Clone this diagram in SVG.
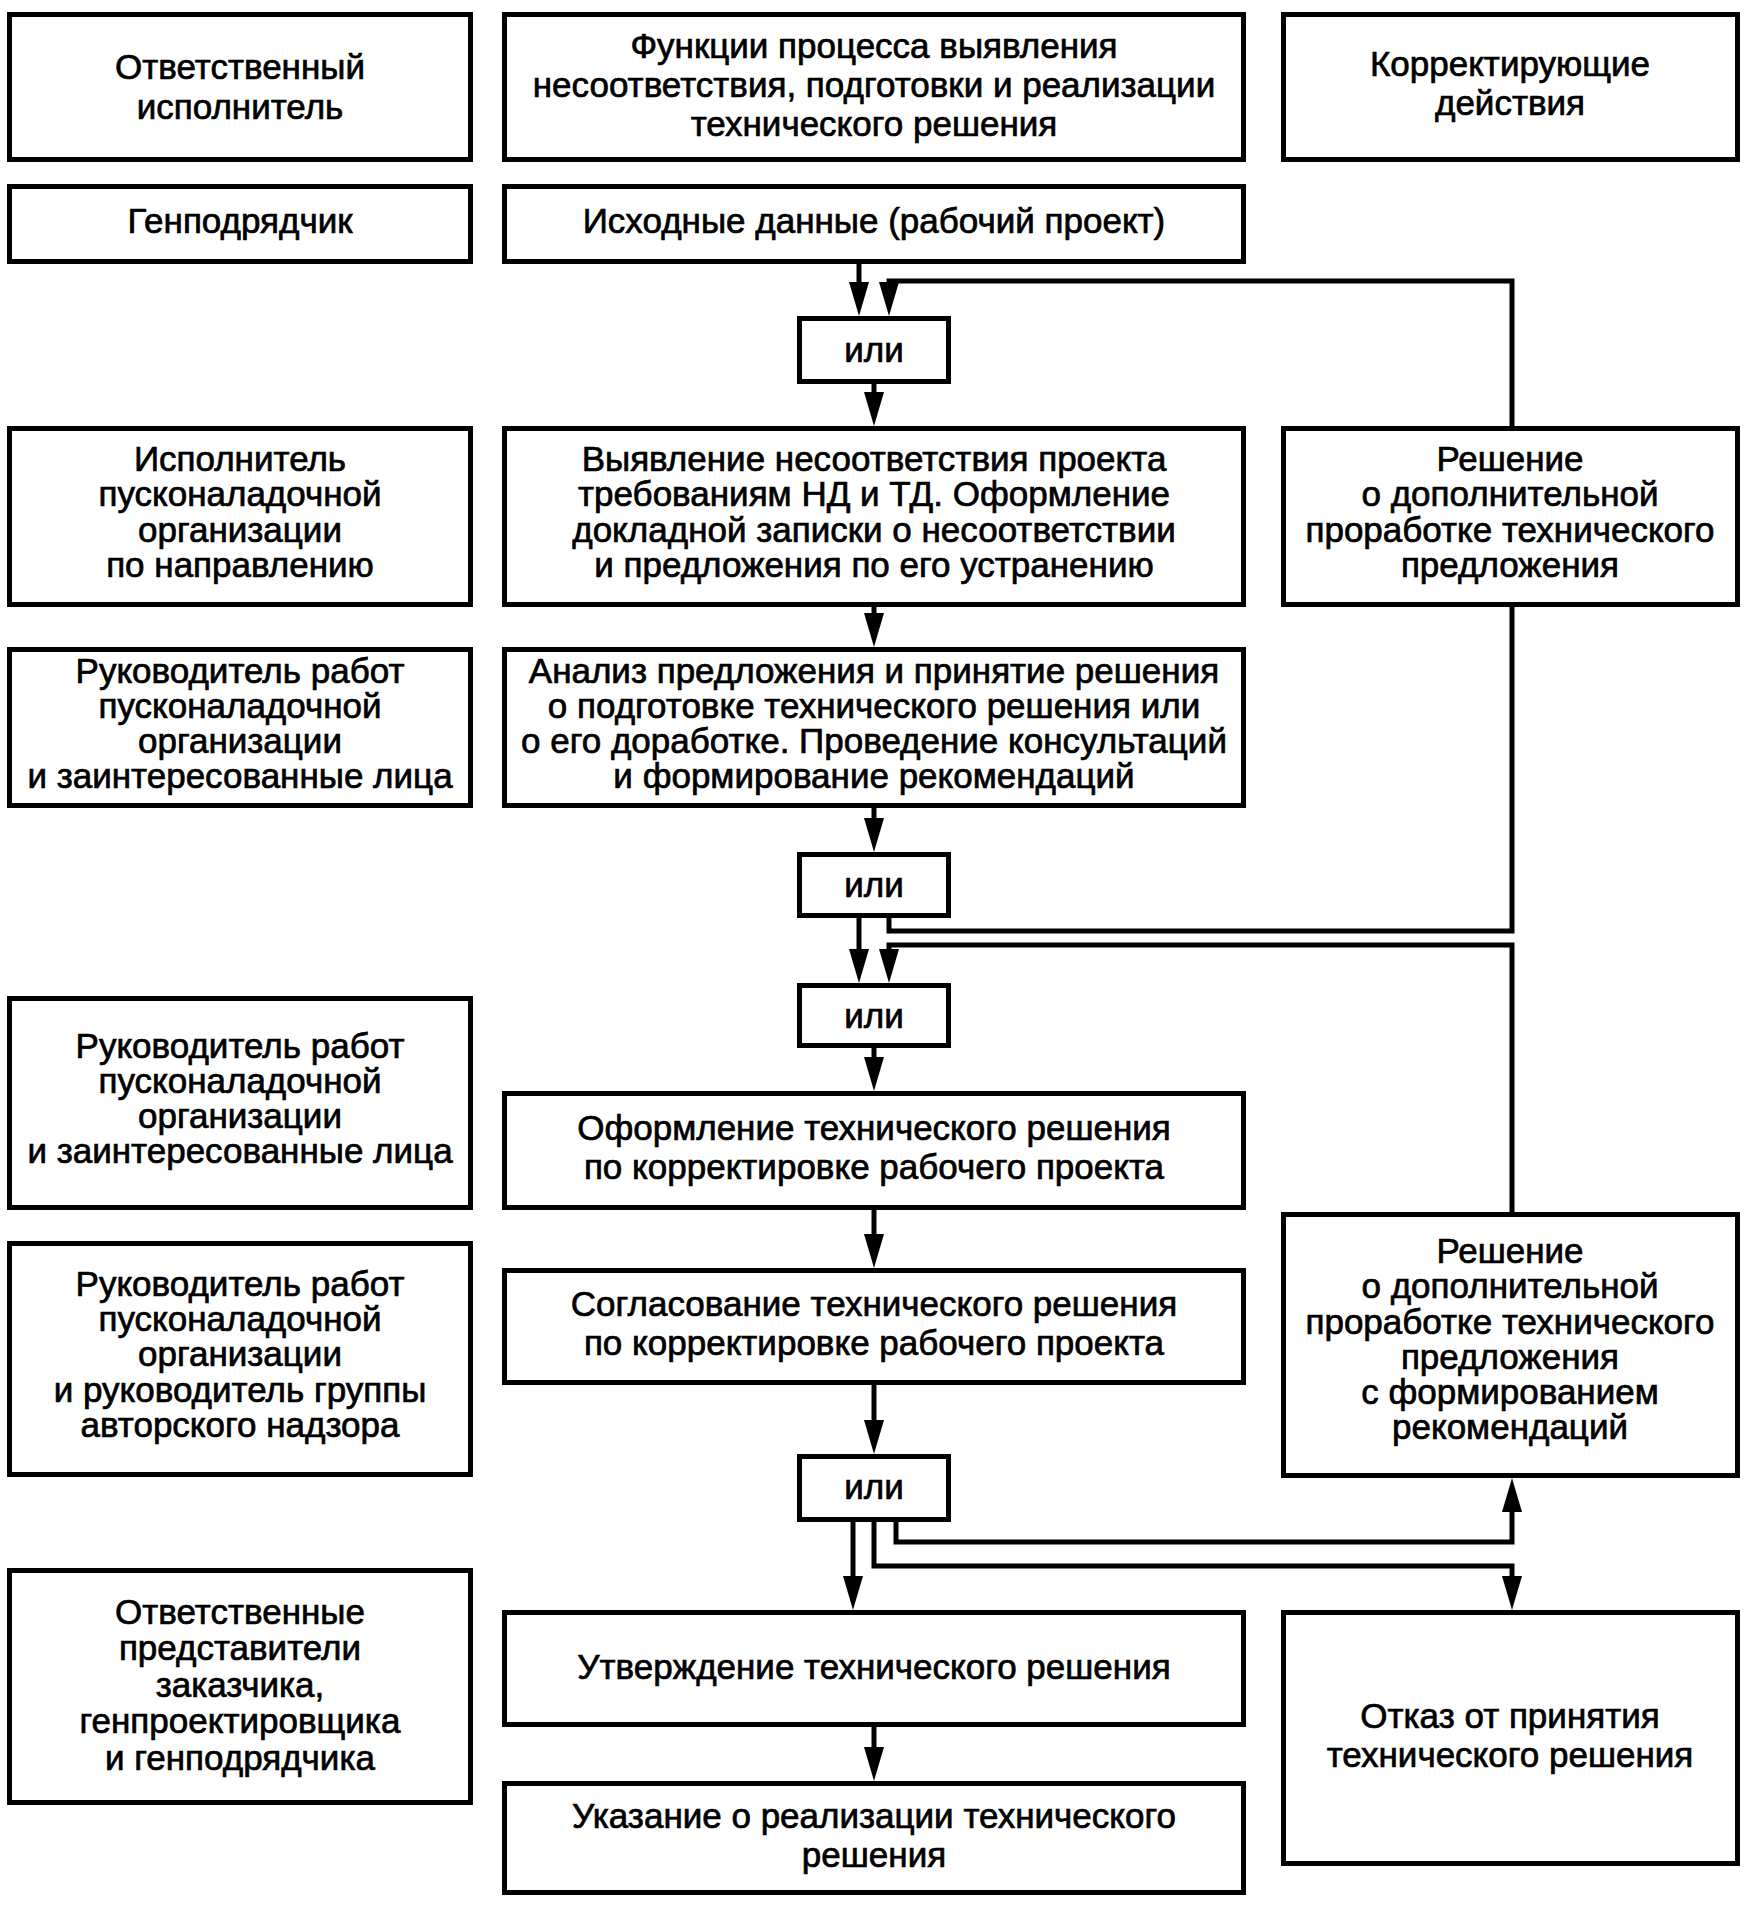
<svg xmlns="http://www.w3.org/2000/svg" width="1749" height="1905" viewBox="0 0 1749 1905">
<style>
.b{fill:#fff;stroke:#000;stroke-width:5}
.t{font-family:"Liberation Sans",Arial,sans-serif;font-size:35px;fill:#000;stroke:#000;stroke-width:0.7;text-anchor:middle}
.c{fill:none;stroke:#000;stroke-width:5}
.a{marker-end:url(#ah)}
</style>
<defs>
<marker id="ah" markerUnits="userSpaceOnUse" viewBox="0 0 34 20" markerWidth="34" markerHeight="20" refX="2" refY="10" orient="auto">
<path d="M0,0 L34,10 L0,20 z" fill="#000"/>
</marker>
</defs>
<rect width="1749" height="1905" fill="#fff"/>

<g id="h-left"><rect class="b" x="9.5" y="14.5" width="461" height="145"/>
<text class="t" x="240" y="79">Ответственный</text><text class="t" x="240" y="119">исполнитель</text></g>
<g id="h-mid"><rect class="b" x="504.5" y="14.5" width="739" height="145"/>
<text class="t" x="874" y="58">Функции процесса выявления</text><text class="t" x="874" y="97">несоответствия, подготовки и реализации</text><text class="t" x="874" y="136">технического решения</text></g>
<g id="h-right"><rect class="b" x="1283.5" y="14.5" width="454" height="145"/>
<text class="t" x="1510" y="76">Корректирующие</text><text class="t" x="1510" y="115">действия</text></g>

<g id="r2-left"><rect class="b" x="9.5" y="186.5" width="461" height="75"/>
<text class="t" x="240" y="233">Генподрядчик</text></g>
<g id="r2-mid"><rect class="b" x="504.5" y="186.5" width="739" height="75"/>
<text class="t" x="874" y="233">Исходные данные (рабочий проект)</text></g>

<g id="or1"><rect class="b" x="799.5" y="318.5" width="149" height="63"/>
<text class="t" x="874" y="362">или</text></g>

<g id="r3-left"><rect class="b" x="9.5" y="428.5" width="461" height="176"/>
<text class="t" x="240" y="471">Исполнитель</text><text class="t" x="240" y="506">пусконаладочной</text><text class="t" x="240" y="542">организации</text><text class="t" x="240" y="577">по направлению</text></g>
<g id="r3-mid"><rect class="b" x="504.5" y="428.5" width="739" height="176"/>
<text class="t" x="874" y="471">Выявление несоответствия проекта</text><text class="t" x="874" y="506">требованиям НД и ТД. Оформление</text><text class="t" x="874" y="542">докладной записки о несоответствии</text><text class="t" x="874" y="577">и предложения по его устранению</text></g>
<g id="r3-right"><rect class="b" x="1283.5" y="428.5" width="454" height="176"/>
<text class="t" x="1510" y="471">Решение</text><text class="t" x="1510" y="506">о дополнительной</text><text class="t" x="1510" y="542">проработке технического</text><text class="t" x="1510" y="577">предложения</text></g>

<g id="r4-left"><rect class="b" x="9.5" y="649.5" width="461" height="156"/>
<text class="t" x="240" y="683">Руководитель работ</text><text class="t" x="240" y="718">пусконаладочной</text><text class="t" x="240" y="753">организации</text><text class="t" x="240" y="788">и заинтересованные лица</text></g>
<g id="r4-mid"><rect class="b" x="504.5" y="649.5" width="739" height="156"/>
<text class="t" x="874" y="683">Анализ предложения и принятие решения</text><text class="t" x="874" y="718">о подготовке технического решения или</text><text class="t" x="874" y="753">о его доработке. Проведение консультаций</text><text class="t" x="874" y="788">и формирование рекомендаций</text></g>

<g id="or2"><rect class="b" x="799.5" y="854.5" width="149" height="61"/>
<text class="t" x="874" y="897">или</text></g>
<g id="or3"><rect class="b" x="799.5" y="985.5" width="149" height="60"/>
<text class="t" x="874" y="1028">или</text></g>

<g id="r5-left"><rect class="b" x="9.5" y="998.5" width="461" height="209"/>
<text class="t" x="240" y="1058">Руководитель работ</text><text class="t" x="240" y="1093">пусконаладочной</text><text class="t" x="240" y="1128">организации</text><text class="t" x="240" y="1163">и заинтересованные лица</text></g>
<g id="r5-mid"><rect class="b" x="504.5" y="1093.5" width="739" height="114"/>
<text class="t" x="874" y="1140">Оформление технического решения</text><text class="t" x="874" y="1179">по корректировке рабочего проекта</text></g>

<g id="r6-left"><rect class="b" x="9.5" y="1243.5" width="461" height="231"/>
<text class="t" x="240" y="1296">Руководитель работ</text><text class="t" x="240" y="1331">пусконаладочной</text><text class="t" x="240" y="1366">организации</text><text class="t" x="240" y="1402">и руководитель группы</text><text class="t" x="240" y="1437">авторского надзора</text></g>
<g id="r6-mid"><rect class="b" x="504.5" y="1270.5" width="739" height="112"/>
<text class="t" x="874" y="1316">Согласование технического решения</text><text class="t" x="874" y="1355">по корректировке рабочего проекта</text></g>
<g id="r6-right"><rect class="b" x="1283.5" y="1214.5" width="454" height="261"/>
<text class="t" x="1510" y="1263">Решение</text><text class="t" x="1510" y="1298">о дополнительной</text><text class="t" x="1510" y="1334">проработке технического</text><text class="t" x="1510" y="1369">предложения</text><text class="t" x="1510" y="1404">с формированием</text><text class="t" x="1510" y="1439">рекомендаций</text></g>

<g id="or4"><rect class="b" x="799.5" y="1456.5" width="149" height="63"/>
<text class="t" x="874" y="1499">или</text></g>

<g id="r7-left"><rect class="b" x="9.5" y="1570.5" width="461" height="232"/>
<text class="t" x="240" y="1624">Ответственные</text><text class="t" x="240" y="1660">представители</text><text class="t" x="240" y="1697">заказчика,</text><text class="t" x="240" y="1733">генпроектировщика</text><text class="t" x="240" y="1770">и генподрядчика</text></g>
<g id="r7-mid"><rect class="b" x="504.5" y="1612.5" width="739" height="112"/>
<text class="t" x="874" y="1679">Утверждение технического решения</text></g>
<g id="r7-right"><rect class="b" x="1283.5" y="1612.5" width="454" height="251"/>
<text class="t" x="1510" y="1728">Отказ от принятия</text><text class="t" x="1510" y="1767">технического решения</text></g>
<g id="r8-mid"><rect class="b" x="504.5" y="1783.5" width="739" height="109"/>
<text class="t" x="874" y="1828">Указание о реализации технического</text><text class="t" x="874" y="1867">решения</text></g>

<g id="connectors">
<path class="c a" d="M859,264 V284"/>
<path class="c a" d="M1512,426 V281 H889 V284"/>
<path class="c a" d="M874,384 V394"/>
<path class="c a" d="M874,607 V615"/>
<path class="c a" d="M874,808 V820"/>
<path class="c a" d="M859,918 V951"/>
<path class="c" d="M889,918 V931 H1512 V607"/>
<path class="c a" d="M1512,1212 V945 H889 V951"/>
<path class="c a" d="M874,1048 V1059"/>
<path class="c a" d="M874,1210 V1236"/>
<path class="c a" d="M874,1385 V1422"/>
<path class="c a" d="M853,1522 V1578"/>
<path class="c a" d="M874,1522 V1566 H1512 V1578"/>
<path class="c a" d="M896,1522 V1542 H1512 V1510"/>
<path class="c a" d="M874,1727 V1749"/>
</g>
</svg>
